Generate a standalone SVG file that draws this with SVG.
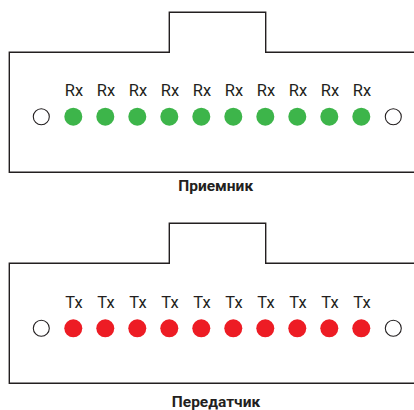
<svg xmlns="http://www.w3.org/2000/svg" width="414" height="410" viewBox="0 0 414 410">
<style>
.frame{fill:none;stroke:#231f20;stroke-width:1.4}
.off{fill:#fff;stroke:#231f20;stroke-width:1.1}
.rx{fill:#3db54a}
.tx{fill:#ed1c24}
.lbl{font-family:Roboto,"Liberation Sans",sans-serif;font-size:16.5px;fill:#231f20;text-anchor:middle}
.ttl{font-family:Roboto,"Liberation Sans",sans-serif;font-size:15.5px;font-weight:bold;fill:#231f20;text-anchor:middle}
</style>
<defs>
<circle id="led" r="9"/>
</defs>
<g id="receiver">
<path class="frame" d="M420 52.3H265.7V12.3H169.3V52.3H9.3V172.3H420"/>
<circle class="off" cx="41.3" cy="116.7" r="8"/>
<circle class="off" cx="393.3" cy="116.7" r="8"/>
<g class="rx">
<use href="#led" x="73.3" y="116.7"/><use href="#led" x="105.3" y="116.7"/><use href="#led" x="137.3" y="116.7"/><use href="#led" x="169.3" y="116.7"/><use href="#led" x="201.3" y="116.7"/><use href="#led" x="233.3" y="116.7"/><use href="#led" x="265.3" y="116.7"/><use href="#led" x="297.3" y="116.7"/><use href="#led" x="329.3" y="116.7"/><use href="#led" x="361.3" y="116.7"/>
</g>
<g class="lbl">
<text x="74" y="96">Rx</text><text x="106" y="96">Rx</text><text x="138" y="96">Rx</text><text x="170" y="96">Rx</text><text x="202" y="96">Rx</text><text x="234" y="96">Rx</text><text x="266" y="96">Rx</text><text x="298" y="96">Rx</text><text x="330" y="96">Rx</text><text x="362" y="96">Rx</text>
</g>
<text class="ttl" x="215.7" y="190.5">Приемник</text>
</g>
<g id="transmitter">
<path class="frame" d="M420 263.3H265.7V223.3H169.3V263.3H9.3V383.3H420"/>
<circle class="off" cx="41.3" cy="328.3" r="8"/>
<circle class="off" cx="393.3" cy="328.3" r="8"/>
<g class="tx">
<use href="#led" x="73.3" y="328.3"/><use href="#led" x="105.3" y="328.3"/><use href="#led" x="137.3" y="328.3"/><use href="#led" x="169.3" y="328.3"/><use href="#led" x="201.3" y="328.3"/><use href="#led" x="233.3" y="328.3"/><use href="#led" x="265.3" y="328.3"/><use href="#led" x="297.3" y="328.3"/><use href="#led" x="329.3" y="328.3"/><use href="#led" x="361.3" y="328.3"/>
</g>
<g class="lbl">
<text x="74" y="308.3">Tx</text><text x="106" y="308.3">Tx</text><text x="138" y="308.3">Tx</text><text x="170" y="308.3">Tx</text><text x="202" y="308.3">Tx</text><text x="234" y="308.3">Tx</text><text x="266" y="308.3">Tx</text><text x="298" y="308.3">Tx</text><text x="330" y="308.3">Tx</text><text x="362" y="308.3">Tx</text>
</g>
<text class="ttl" x="216" y="406.5">Передатчик</text>
</g>
<g id="connectors"/>
</svg>
